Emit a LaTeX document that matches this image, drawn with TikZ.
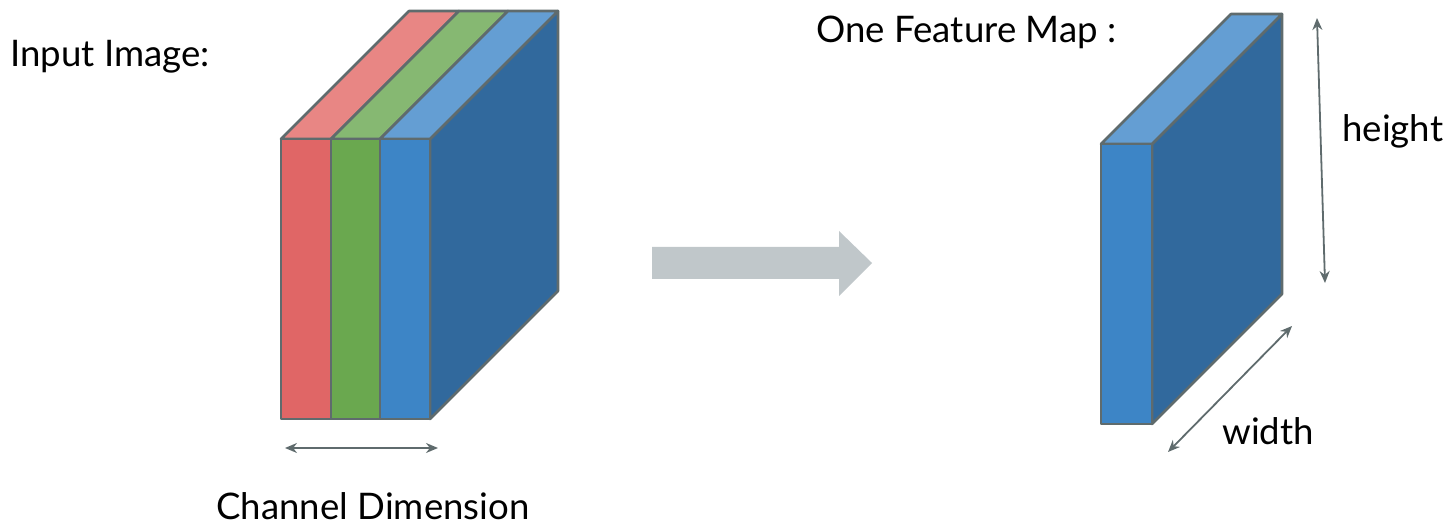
\documentclass[tikz,border=0pt]{standalone}
\usepackage{fontspec}
\setmainfont{Lato}
\usetikzlibrary{arrows.meta,positioning}
\definecolor{edgegray}{HTML}{5F6B6D}
\definecolor{redfront}{HTML}{E06666}
\definecolor{redtop}{HTML}{E88684}
\definecolor{greenfront}{HTML}{6AA84F}
\definecolor{greentop}{HTML}{86B872}
\definecolor{bluefront}{HTML}{3D85C6}
\definecolor{bluetop}{HTML}{649ED3}
\definecolor{blueside}{HTML}{31699D}
\definecolor{flowgray}{HTML}{C0C7CA}

\begin{document}
\begin{tikzpicture}[
  x=0.5pt, y=-0.5pt,
  every node/.style={inner sep=0pt, anchor=base west, font=\fontsize{18.3}{22}\selectfont},
  face/.style={draw=edgegray, line width=1.3pt, line join=round},
  dimarr/.style={{Stealth[length=6pt,width=5pt]}-{Stealth[length=6pt,width=5pt]}, draw=edgegray, fill=edgegray, line width=0.9pt},
]
\useasboundingbox (0,0) rectangle (1451,528);

% input image: three channels
\draw[face, fill=blueside] (430,139) -- (558,11) -- (558,291) -- (430,419) -- cycle;
\draw[face, fill=redtop] (281,139) -- (409,11) -- (459,11) -- (331,139) -- cycle;
\draw[face, fill=greentop] (331,139) -- (459,11) -- (508,11) -- (380,139) -- cycle;
\draw[face, fill=bluetop] (380,139) -- (508,11) -- (558,11) -- (430,139) -- cycle;
\draw[face, fill=redfront] (281,139) rectangle (331,419);
\draw[face, fill=greenfront] (331,139) rectangle (380,419);
\draw[face, fill=bluefront] (380,139) rectangle (430,419);

\node (input) at (10,67) {Input Image:};
\node (channel) at (216,520) {Channel Dimension};
\coordinate (chL) at (285,448);
\coordinate (chR) at (438,448);
\draw[dimarr] (chL) -- (chR);

% flow arrow
\fill[flowgray] (652,247) -- (839,247) -- (839,231) -- (872,263) -- (839,296) -- (839,279) -- (652,279) -- cycle;

% one feature map
\draw[face, fill=blueside] (1152,144) -- (1282,14) -- (1282,294) -- (1152,424) -- cycle;
\draw[face, fill=bluetop] (1101,144) -- (1231,14) -- (1282,14) -- (1152,144) -- cycle;
\draw[face, fill=bluefront] (1101,144) rectangle (1152,424);

\node (fmap) at (816,43) {One Feature Map :};
\node (height) at (1342,142) {height};
\node (width) at (1222,445) {width};
\coordinate (hTop) at (1317,18);
\coordinate (hBot) at (1325,283);
\coordinate (wTop) at (1292,326);
\coordinate (wBot) at (1168,452);
\draw[dimarr] (hTop) -- (hBot);
\draw[dimarr] (wTop) -- (wBot);

\end{tikzpicture}
\end{document}
